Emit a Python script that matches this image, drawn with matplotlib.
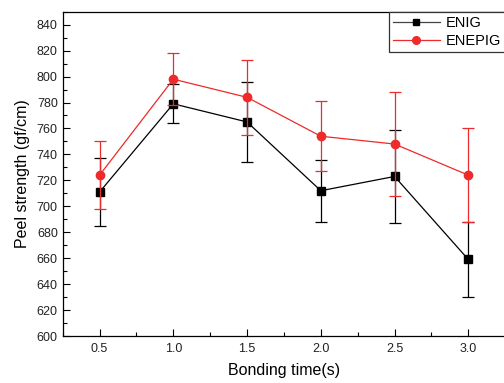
import matplotlib
matplotlib.use("Agg")
import matplotlib.pyplot as plt
from matplotlib.ticker import MultipleLocator
from matplotlib.lines import Line2D

plt.rcParams['font.family'] = ['Liberation Sans', 'DejaVu Sans']

bonding_time = [0.5, 1.0, 1.5, 2.0, 2.5, 3.0]
enig = [711, 779, 765, 712, 723, 659]
enig_err = [26, 15, 31, 24, 36, 29]
enepig = [724, 798, 784, 754, 748, 724]
enepig_err = [26, 20, 29, 27, 40, 36]
x_ticklabels = ['0.5', '1.0', '1.5', '2.0', '2.5', '3.0']

fig = plt.figure(figsize=(5.04, 3.83), dpi=100)
ax = fig.add_axes([0.1244, 0.1227, 0.878, 0.8467])

red = '#ee2a2a'
ax.errorbar(bonding_time, enig, yerr=enig_err, color='black', marker='s', ms=5.5,
            lw=0.9, elinewidth=0.9, capsize=4, capthick=0.9, zorder=3)
ax.errorbar(bonding_time, enepig, yerr=enepig_err, color=red, marker='o', ms=6,
            lw=0.9, elinewidth=0.9, capsize=4, capthick=0.9, zorder=4)

ax.set_xlim(0.25, 3.25)
ax.set_ylim(600, 850)
ax.set_xticks(bonding_time)
ax.set_xticklabels(x_ticklabels)
ax.xaxis.set_minor_locator(MultipleLocator(0.25))
ax.set_yticks(range(600, 841, 20))
ax.yaxis.set_minor_locator(MultipleLocator(10))
ax.tick_params(which='both', direction='in', top=False, right=False, labelsize=9,
               width=0.8, labelcolor='#222222')
ax.tick_params(which='major', length=5)
ax.tick_params(which='minor', length=3)
ax.tick_params(axis='x', pad=5)

ax.set_xlabel('Bonding time(s)', fontsize=11.5, labelpad=6)
ax.set_ylabel('Peel strength (gf/cm)', fontsize=11.5, labelpad=5)

for s in ax.spines.values():
    s.set_linewidth(0.9)

handles = [
    Line2D([], [], color='#444444', lw=0.9, marker='s', ms=5, mfc='black', mec='black'),
    Line2D([], [], color=red, lw=0.9, marker='o', ms=5.5),
]
leg = ax.legend(handles, ['ENIG', 'ENEPIG'], loc='upper right', borderaxespad=0,
                fontsize=10.5, fancybox=False, edgecolor='#333333', framealpha=1,
                handlelength=3.2, handletextpad=0.4, borderpad=0.3, labelspacing=0.25)
leg.get_frame().set_linewidth(0.9)

fig.savefig('out.png', dpi=100)
